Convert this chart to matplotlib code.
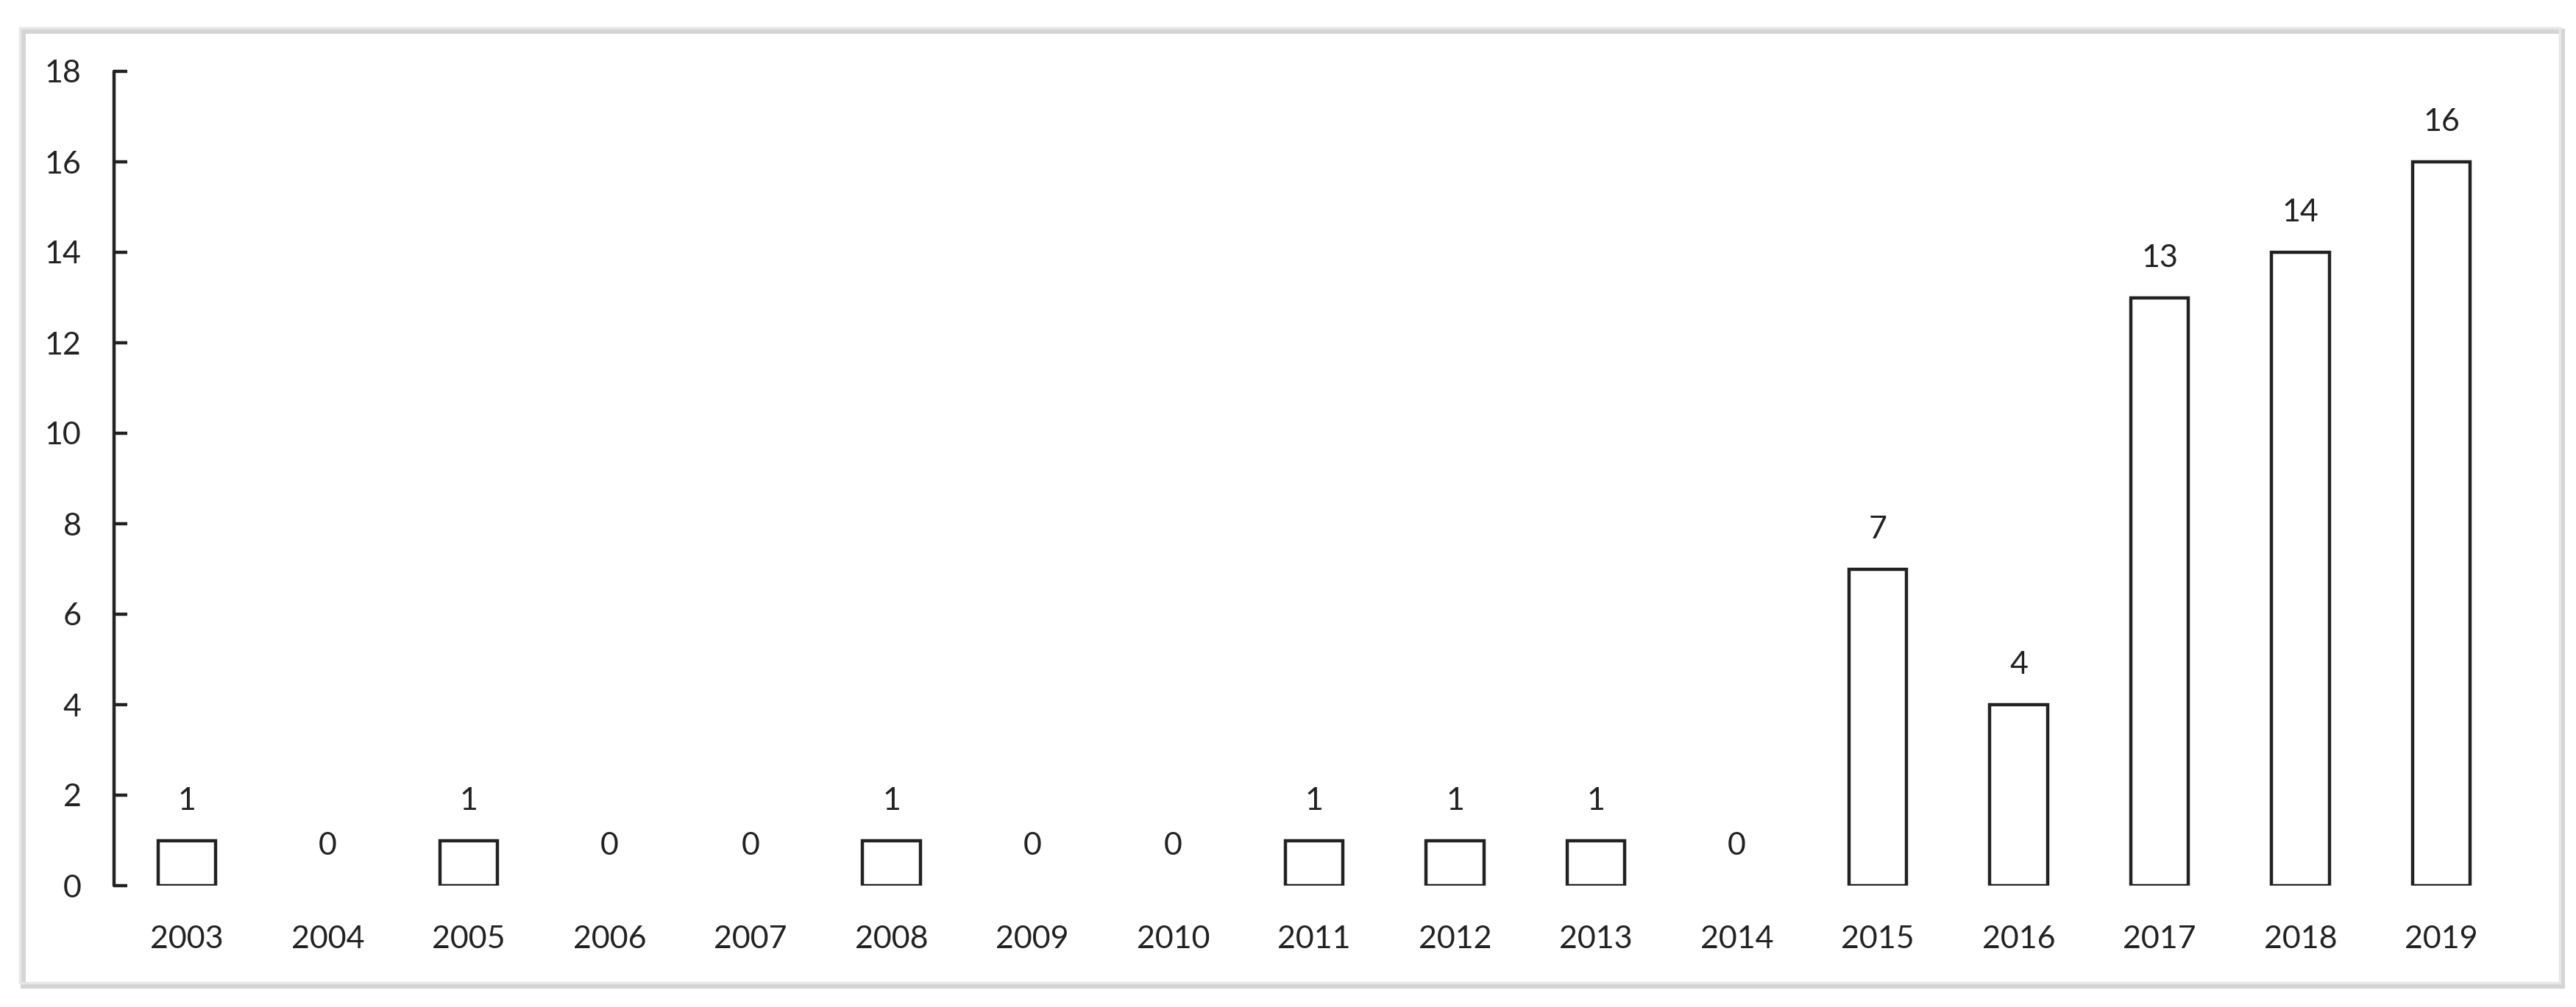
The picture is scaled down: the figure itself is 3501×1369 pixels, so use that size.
import matplotlib
matplotlib.use("Agg")
import matplotlib.pyplot as plt
from matplotlib.patches import Rectangle

years = ["2003", "2004", "2005", "2006", "2007", "2008", "2009", "2010", "2011",
         "2012", "2013", "2014", "2015", "2016", "2017", "2018", "2019"]
counts = [1, 0, 1, 0, 0, 1, 0, 0, 1, 1, 1, 0, 7, 4, 13, 14, 16]
yticks = [0, 2, 4, 6, 8, 10, 12, 14, 16, 18]

plt.rcParams['font.family'] = ['Lato', 'DejaVu Sans']

W, H = 3501, 1369
fig = plt.figure(figsize=(W / 100, H / 100), dpi=100)
fig.patch.set_facecolor('white')

# outer frame with a light shadow on right/bottom
fig.patches.append(Rectangle((31 / W, 1 - 1340 / H), 3451 / W, 1298 / H,
                             transform=fig.transFigure, facecolor='none',
                             edgecolor='#d4d4d4', linewidth=5, zorder=-2))
fig.patches.append(Rectangle((27 / W, 1 - 1336 / H), 3452 / W, 1298 / H,
                             transform=fig.transFigure, facecolor='none',
                             edgecolor='#e6e6e6', linewidth=2.5, zorder=-1))

left_px, bottom_px, top_px = 155, 1204, 97
unit = 191.5
xmin, xmax = -0.517, 16.55
right_px = left_px + (xmax - xmin) * unit
ax = fig.add_axes([left_px / W, 1 - bottom_px / H,
                   (right_px - left_px) / W, (bottom_px - top_px) / H])
ax.set_facecolor('none')

x = list(range(len(years)))
lws = [3.2 if v > 0 else 0 for v in counts]
ax.bar(x, counts, width=0.41, facecolor='white', edgecolor='#222222',
       linewidth=lws, zorder=3)

for xi, v in zip(x, counts):
    ax.annotate(str(v), (xi, v), xytext=(0, 25), textcoords='offset points',
                ha='center', va='bottom', fontsize=31, color='#222222')

ax.set_xlim(xmin, xmax)
ax.set_ylim(0, 18)
ax.set_yticks(yticks)
ax.set_xticks(x)
ax.set_xticklabels(years)

for s in ['top', 'right', 'bottom']:
    ax.spines[s].set_visible(False)
ax.spines['left'].set_color('#222222')
ax.spines['left'].set_linewidth(3.2)
ax.spines['left'].set_capstyle('round')

ax.tick_params(axis='y', direction='in', length=13, width=3.2, color='#222222',
               labelsize=31, labelcolor='#222222', pad=32)
ax.tick_params(axis='x', length=0, labelsize=31, labelcolor='#222222', pad=39)

fig.savefig('out.png', dpi=100, facecolor='white')
